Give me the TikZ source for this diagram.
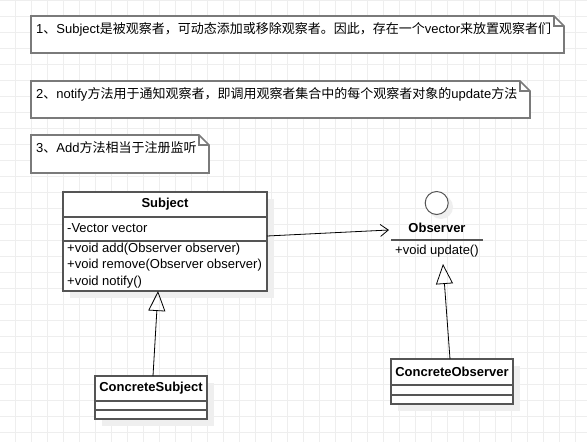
\documentclass[tikz,border=0pt]{standalone}
\usepackage{fontspec}
\setmainfont{Liberation Sans}
\newfontfamily\cjk{Noto Sans CJK SC}
\usetikzlibrary{arrows.meta}
\definecolor{gridc}{HTML}{EEEEEE}
\definecolor{boxc}{HTML}{555555}
\definecolor{notec}{HTML}{7A7A7A}
\definecolor{shadc}{HTML}{EFEFEF}
\tikzset{
  notebox/.style={draw=notec, line width=1.6pt, fill=white},
  umlbox/.style={draw=boxc, line width=1.4pt, fill=white},
  shad/.style={fill=shadc, draw=none},
  divline/.style={draw=boxc, line width=1.4pt},
  notetext/.style={anchor=west, inner sep=0pt, font=\fontsize{13}{15}\selectfont},
  member/.style={anchor=west, inner sep=0pt, font=\fontsize{13}{15}\selectfont},
  cname/.style={inner sep=0pt, font=\fontsize{13}{15}\selectfont\bfseries},
  conn/.style={draw=black, line width=0.8pt},
  gen/.style={conn, -{Triangle[open, length=20pt, width=17pt]}},
  assoc/.style={conn, -{Straight Barb[length=8pt, width=12pt]}},
}
\begin{document}
\begin{tikzpicture}[x=1pt,y=-1pt]
\useasboundingbox (0,0) rectangle (587,442);
\fill[white] (0,0) rectangle (587,442);
% grid
\foreach \i in {0,...,36} {\draw[gridc, line width=0.8pt] (15.7+16*\i,0) -- (15.7+16*\i,442);}
\foreach \j in {0,...,27} {\draw[gridc, line width=0.8pt] (0,0.7+16*\j) -- (587,0.7+16*\j);}

% notes
\draw[notebox] (31,16) -- (554,16) -- (564,26) -- (564,53) -- (31,53) -- cycle;
\draw[notec, line width=1.2pt] (554,16) -- (554,26) -- (564,26);
\node[notetext] (n1) at (36,29) {1{\cjk 、}Subject{\cjk 是被观察者，可动态添加或移除观察者。因此，存在一个}vector{\cjk 来放置观察者们}};

\draw[notebox] (31,81) -- (520,81) -- (530,91) -- (530,118) -- (31,118) -- cycle;
\draw[notec, line width=1.2pt] (520,81) -- (520,91) -- (530,91);
\node[notetext] (n2) at (36,94) {2{\cjk 、}notify{\cjk 方法用于通知观察者，即调用观察者集合中的每个观察者对象的}update{\cjk 方法}};

\draw[notebox] (31,135) -- (199,135) -- (209,145) -- (209,173) -- (31,173) -- cycle;
\draw[notec, line width=1.2pt] (199,135) -- (199,145) -- (209,145);
\node[notetext] (n3) at (36,148) {3{\cjk 、}Add{\cjk 方法相当于注册监听}};

% Subject class
\fill[shad] (70,199) rectangle (274,298);
\draw[umlbox] (63,192) rectangle (267,291);
\draw[divline] (63,217) -- (267,217);
\draw[divline] (63,241) -- (267,241);
\node[cname] (subj) at (165,204.5) {Subject};
\node[member] (m0) at (67,228.5) {-Vector vector};
\node[member] (m1) at (67,249) {+void add(Observer observer)};
\node[member] (m2) at (67,265.5) {+void remove(Observer observer)};
\node[member] (m3) at (67,282) {+void notify()};
\coordinate (subjR) at (267,236);
\coordinate (subjB) at (158,291);

% Observer interface
\fill[shadc] (441,207) circle (12);
\draw[boxc, line width=1pt, fill=white] (436.7,203) circle (11.5);
\node[cname] (obs) at (437,228) {Observer};
\draw[divline] (391,240) -- (483,240);
\node[member] (om) at (395,251.5) {+void update()};
\coordinate (obsL) at (389,230);
\coordinate (obsB) at (443,264);

% ConcreteSubject
\fill[shad] (102,383) rectangle (214,426);
\draw[umlbox] (95,376) rectangle (207,419);
\draw[divline] (95,401) -- (207,401);
\draw[divline] (95,410) -- (207,410);
\node[cname] (cs) at (151,388.5) {ConcreteSubject};
\coordinate (csT) at (153,376);

% ConcreteObserver
\fill[shad] (398,366) rectangle (520,411);
\draw[umlbox] (391,359) rectangle (513,404);
\draw[divline] (391,385) -- (513,385);
\draw[divline] (391,395) -- (513,395);
\node[cname] (co) at (452,372) {ConcreteObserver};
\coordinate (coT) at (450,359);

% connectors
\draw[assoc] (subjR) -- (obsL);
\draw[gen] (csT) -- (subjB);
\draw[gen] (coT) -- (obsB);
\end{tikzpicture}
\end{document}
